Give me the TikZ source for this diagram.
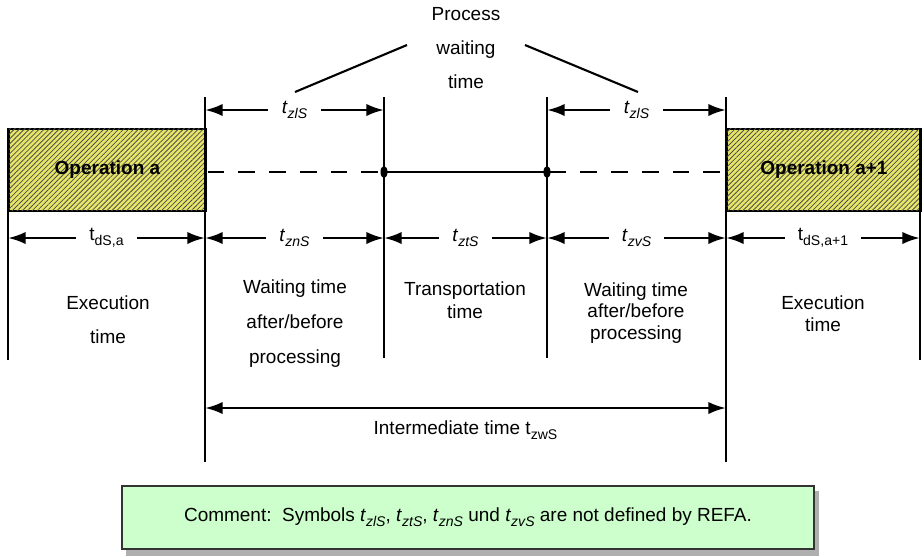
\documentclass[tikz,border=0pt]{standalone}
\usepackage{fontspec}
\setmainfont{Liberation Sans}
\usetikzlibrary{positioning}
\usetikzlibrary{arrows.meta}
\usetikzlibrary{patterns.meta}
\definecolor{opyellow}{RGB}{232,230,104}
\definecolor{notegreen}{RGB}{204,255,204}
\definecolor{shadowgray}{RGB}{175,175,175}
\newcommand{\tit}[1]{\textit{t}\raisebox{-0.5ex}{\fontsize{8}{8}\selectfont\itshape #1}}
\newcommand{\tup}[1]{t\raisebox{-0.5ex}{\fontsize{8}{8}\selectfont #1}}
\begin{document}
\begin{tikzpicture}[
    x=0.02cm, y=-0.02cm,
    font=\fontsize{10.8}{13}\selectfont,
    bar/.style={line width=1.6pt},
    dim/.style={line width=1.5pt, {Latex[length=10pt,width=7pt]}-{Latex[length=10pt,width=7pt]}},
    lbl/.style={fill=white, inner xsep=7.5pt, inner ysep=1pt},
    txt/.style={align=center},
    opbox/.style={draw, line width=1.1pt, fill=opyellow, anchor=north west,
        postaction={pattern={Lines[angle=45,distance=2pt,line width=0.45pt]}, pattern color=black!70},
        font=\fontsize{10.8}{13}\selectfont\bfseries, minimum height=1.64cm},
    note/.style={draw=black!80, line width=0.8pt, fill=notegreen, minimum width=13.84cm, minimum height=1.26cm}
]
    \useasboundingbox (0,0) rectangle (924,556);

    % operations
    \node[opbox, minimum width=3.94cm] (opa) at (8,128) {Operation a};
    \node[opbox, minimum width=3.88cm] (opb) at (726,128) {Operation a+1};

    % vertical bars
    \coordinate (a0) at (8,128);   \coordinate (b0) at (8,360);
    \coordinate (a1) at (205,97);  \coordinate (b1) at (205,462);
    \coordinate (a2) at (384,97);  \coordinate (b2) at (384,358);
    \coordinate (a3) at (547,97);  \coordinate (b3) at (547,358);
    \coordinate (a4) at (726,97);  \coordinate (b4) at (726,462);
    \coordinate (a5) at (920,128); \coordinate (b5) at (920,360);
    \foreach \i in {0,...,5} {
        \draw[bar] (a\i) -- (b\i);
    }

    % process line
    \coordinate (p1) at (205,172);
    \coordinate (p2) at (384,172);
    \coordinate (p3) at (547,172);
    \coordinate (p4) at (726,172);
    \draw[bar, dash pattern=on 9.5pt off 8pt, dash phase=-1.5pt] (p1) -- (p2);
    \draw[bar] (p2) -- (p3);
    \draw[bar, dash pattern=on 9.5pt off 8pt, dash phase=-1.5pt] (p3) -- (p4);
    \fill (p2) ellipse [x radius=3.5, y radius=6];
    \fill (p3) ellipse [x radius=3.5, y radius=6];

    % process waiting time
    \node[txt, font=\fontsize{10.8}{19.3}\selectfont] (pwt) at (466,48) {Process\\waiting\\time};
    \coordinate (l1) at (295,92);  \coordinate (l2) at (407,45);
    \coordinate (r1) at (525,45);  \coordinate (r2) at (638,92);
    \draw[line width=1.2pt] (l1) -- (l2);
    \draw[line width=1.2pt] (r1) -- (r2);

    % top dimensions
    \coordinate (t1) at (205,110);
    \coordinate (t2) at (384,110);
    \coordinate (t3) at (547,110);
    \coordinate (t4) at (726,110);
    \draw[dim] (t1) -- node[lbl, inner xsep=8pt] {\tit{zlS}} (t2);
    \draw[dim] (t3) -- node[lbl, inner xsep=8pt] {\tit{zlS}} (t4);

    % middle dimensions
    \coordinate (m0) at (8,238);
    \coordinate (m1) at (205,238);
    \coordinate (m2) at (384,238);
    \coordinate (m3) at (547,238);
    \coordinate (m4) at (726,238);
    \coordinate (m5) at (920,238);
    \draw[dim] (m0) -- node[lbl] {\tup{dS,a}} (m1);
    \draw[dim] (m1) -- node[lbl] {\tit{znS}} (m2);
    \draw[dim] (m2) -- node[lbl] {\tit{ztS}} (m3);
    \draw[dim] (m3) -- node[lbl] {\tit{zvS}} (m4);
    \draw[dim] (m4) -- node[lbl] {\tup{dS,a+1}} (m5);

    % descriptions
    \node[txt, font=\fontsize{10.8}{19.3}\selectfont] (exa) at (108,320) {Execution\\time};
    \node[txt, font=\fontsize{10.8}{19.9}\selectfont] (wta) at (295,324) {Waiting time\\after/before\\processing};
    \node[txt] (trp) at (465,300) {Transportation\\time};
    \node[txt, font=\fontsize{10.8}{12}\selectfont] (wtb) at (636,313) {Waiting time\\after/before\\processing};
    \node[txt, font=\fontsize{10.8}{12.5}\selectfont] (exb) at (823,314) {Execution\\time};

    % intermediate time
    \coordinate (w1) at (205,408);
    \coordinate (w4) at (726,408);
    \draw[dim] (w1) -- node[below=3pt] (itm) {Intermediate time \tup{zwS}} (w4);

    % comment
    \fill[shadowgray] (126,491) rectangle (819,556);
    \node[note] (cmt) at (468,517.5) {Comment:\ \ Symbols \tit{zlS}, \tit{ztS}, \tit{znS} und \tit{zvS} are not defined by REFA.};
\end{tikzpicture}
\end{document}
